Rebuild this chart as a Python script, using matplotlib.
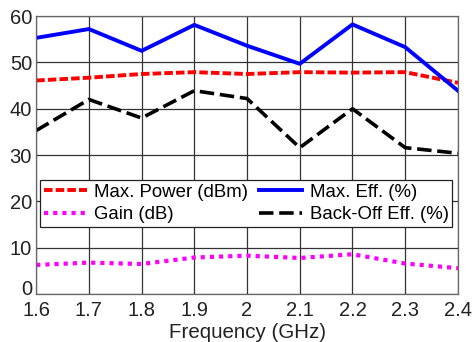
import matplotlib
matplotlib.use('Agg')
import matplotlib.pyplot as plt
import matplotlib.transforms as mtransforms

# values
freq = [1.6, 1.7, 1.8, 1.9, 2.0, 2.1, 2.2, 2.3, 2.4]
max_power = [46.1, 46.7, 47.5, 47.9, 47.5, 47.9, 47.8, 47.9, 45.6]
max_eff = [55.3, 57.2, 52.5, 58.1, 53.6, 49.7, 58.2, 53.3, 43.9]
gain = [6.3, 6.8, 6.5, 7.9, 8.3, 7.8, 8.6, 6.6, 5.6]
backoff_eff = [35.3, 42.0, 38.0, 43.9, 42.2, 31.6, 40.0, 31.6, 30.4]
xticks = [1.6, 1.7, 1.8, 1.9, 2.0, 2.1, 2.2, 2.3, 2.4]
xticklabels = ['1.6', '1.7', '1.8', '1.9', '2', '2.1', '2.2', '2.3', '2.4']

plt.rcParams['font.family'] = ['Liberation Sans', 'DejaVu Sans']

fig = plt.figure(figsize=(4.76, 3.42), dpi=100)
ax = fig.add_axes([0.076, 0.140, 0.886, 0.813])

l1, = ax.plot(freq, max_power, color='red', lw=2.8, dashes=(2.2, 0.8),
              label='Max. Power (dBm)')
l2, = ax.plot(freq, max_eff, color='blue', lw=2.8, label='Max. Eff. (%)')
l3, = ax.plot(freq, gain, color='magenta', lw=3.0, dashes=(1.0, 1.2),
              label='Gain (dB)')
l4, = ax.plot(freq, backoff_eff, color='black', lw=2.6, dashes=(4.0, 1.6),
              label='Back-Off Eff. (%)')

ax.set_xlim(1.6, 2.4)
ax.set_ylim(0, 60)
ax.set_xticks(xticks)
ax.set_xticklabels(xticklabels)
ax.set_yticks(range(0, 61, 10))
ax.grid(True, color='#333333', lw=0.9)
ax.set_axisbelow(True)
ax.tick_params(labelsize=14.5, length=0, pad=3, colors='#222222')
ax.tick_params(axis='x', pad=5)
for s in ax.spines.values():
    s.set_color('#666666')
    s.set_linewidth(0.9)
ax.set_xlabel('Frequency (GHz)', fontsize=14.8, labelpad=2, color='#222222')

# the bottom "0" sits a little higher so it clears the "1.6" label
fig.canvas.draw()
zero_lbl = ax.get_yticklabels()[0]
zero_lbl.set_transform(zero_lbl.get_transform() +
                       mtransforms.ScaledTranslation(0, 5 / 72, fig.dpi_scale_trans))

# column-major: first column power/gain, second column the efficiencies
leg = ax.legend([l1, l3, l2, l4],
                [l.get_label() for l in (l1, l3, l2, l4)],
                ncol=2, loc='upper left', bbox_to_anchor=(0.0095, 0.41),
                fontsize=13.4, frameon=True, fancybox=False,
                handlelength=2.3, handletextpad=0.4, columnspacing=0.6,
                borderpad=0.2, labelspacing=0.3, borderaxespad=0)
leg.get_frame().set_edgecolor('#222222')
leg.get_frame().set_linewidth(0.9)
leg.get_frame().set_alpha(1)

fig.savefig('out.png', dpi=100)
